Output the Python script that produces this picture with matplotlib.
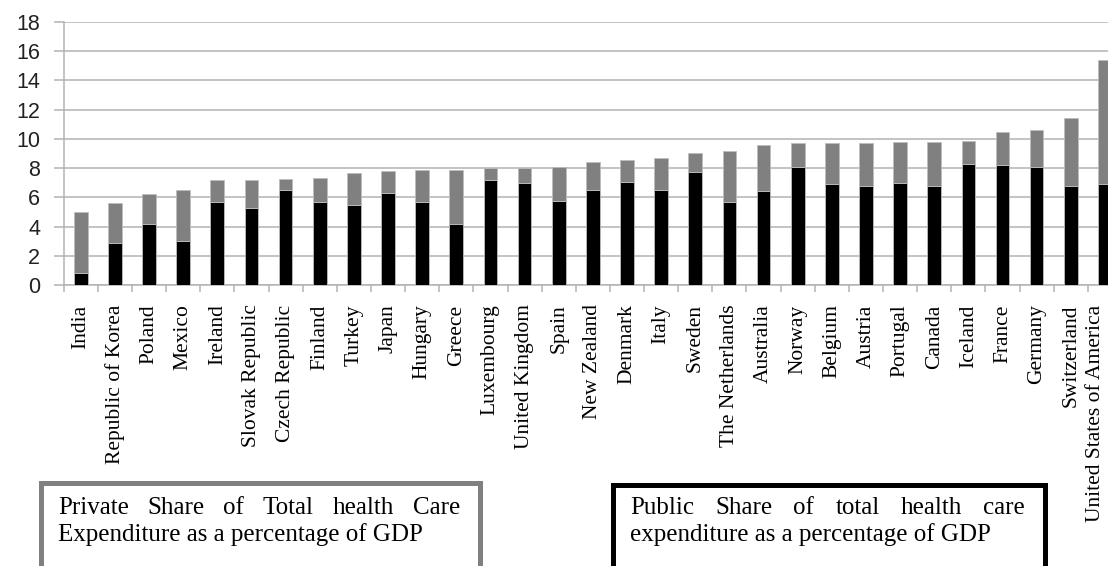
import matplotlib
matplotlib.use("Agg")
import matplotlib.pyplot as plt
from matplotlib.patches import Rectangle
import numpy as np

countries = ["India", "Republic of Korea", "Poland", "Mexico", "Ireland",
             "Slovak Republic", "Czech Republic", "Finland", "Turkey", "Japan",
             "Hungary", "Greece", "Luxembourg", "United Kingdom", "Spain",
             "New Zealand", "Denmark", "Italy", "Sweden", "The Netherlands",
             "Australia", "Norway", "Belgium", "Austria", "Portugal", "Canada",
             "Iceland", "France", "Germany", "Switzerland",
             "United States of America"]
public_share = [0.8, 2.85, 4.2, 3.0, 5.7, 5.3, 6.5, 5.7, 5.45, 6.3,
                5.7, 4.15, 7.2, 7.0, 5.75, 6.5, 7.05, 6.5, 7.7, 5.7,
                6.4, 8.1, 6.9, 6.8, 7.0, 6.8, 8.25, 8.2, 8.1, 6.75, 6.9]
private_share = [4.2, 2.75, 2.0, 3.5, 1.5, 1.9, 0.75, 1.65, 2.2, 1.5,
                 2.15, 3.7, 0.8, 1.0, 2.35, 1.9, 1.5, 2.2, 1.35, 3.5,
                 3.15, 1.6, 2.8, 2.9, 2.8, 3.0, 1.6, 2.3, 2.5, 4.7, 8.5]
yticks = list(range(0, 19, 2))

private_label = ["Private Share of Total health Care",
                 "Expenditure as a percentage of GDP"]
public_label = ["Public Share of total health care",
                "expenditure as a percentage of GDP"]

W, H = 1108, 566
fig = plt.figure(figsize=(W / 100, H / 100), dpi=100)
ax = fig.add_axes([63.7 / W, (H - 285) / H, 1058.3 / W, 263 / H])

grid_c = "#b3b3b3"
x = np.arange(len(countries))
ax.bar(x, public_share, width=0.4, color="black", edgecolor="#bdbdbd",
       linewidth=0.6, zorder=3)
ax.bar(x, private_share, bottom=public_share, width=0.4, color="#808080",
       edgecolor="#bdbdbd", linewidth=0.6, zorder=3)
ax.set_xlim(-0.5, len(countries) - 0.5)
ax.set_ylim(0, 18)
ax.set_yticks(yticks)
ax.yaxis.grid(True, color=grid_c, lw=1.1, zorder=0)
ax.set_axisbelow(True)
for s in ["top", "right"]:
    ax.spines[s].set_visible(False)
for s in ["left", "bottom"]:
    ax.spines[s].set_color(grid_c)
    ax.spines[s].set_linewidth(1.1)
ax.tick_params(axis="y", length=7, width=1.1, color=grid_c, pad=10,
               labelsize=15.5, labelcolor="#222222")
for lab in ax.get_yticklabels():
    lab.set_fontfamily("Liberation Sans")
ax.set_xticks(x)
ax.set_xticklabels(countries, rotation=90, fontfamily="Liberation Serif",
                   fontsize=15.5, va="top")
ax.get_xticklabels()[-1].set_ha("right")
ax.set_xticks(np.arange(-0.5, len(countries)), minor=True)
ax.tick_params(axis="x", which="major", length=0, pad=14)
ax.tick_params(axis="x", which="minor", length=5, width=1.1, color=grid_c)

# Text boxes
def fx(px):
    return px / W

def fy(py):
    return (H - py) / H

fig.add_artist(Rectangle((fx(40.5), fy(600)), fx(479.5 - 40.5), (600 - 482.5) / H,
                         transform=fig.transFigure, fill=False, lw=3.6,
                         edgecolor="#808080", clip_on=False))
fig.add_artist(Rectangle((fx(612.5), fy(600)), fx(1044.5 - 612.5), (600 - 484.5) / H,
                         transform=fig.transFigure, fill=False, lw=3.6,
                         edgecolor="black", clip_on=False))

fig.canvas.draw()
renderer = fig.canvas.get_renderer()
fs = 18


def justified(line, x0, x1, yb):
    words = line.split()
    texts = [fig.text(0, fy(yb), w, fontsize=fs, fontfamily="Liberation Serif",
                      va="baseline", ha="left") for w in words]
    widths = [t.get_window_extent(renderer).width for t in texts]
    gap = (x1 - x0 - sum(widths)) / (len(words) - 1)
    pos = x0
    for t, w in zip(texts, widths):
        t.set_x(fx(pos))
        pos += w + gap


def plain(line, x0, yb):
    fig.text(fx(x0), fy(yb), line, fontsize=fs, fontfamily="Liberation Serif",
             va="baseline", ha="left")


justified(private_label[0], 58, 460, 514)
plain(private_label[1], 58, 541)
justified(public_label[0], 630, 1025, 514)
plain(public_label[1], 630, 541)

fig.savefig("out.png", dpi=100)
